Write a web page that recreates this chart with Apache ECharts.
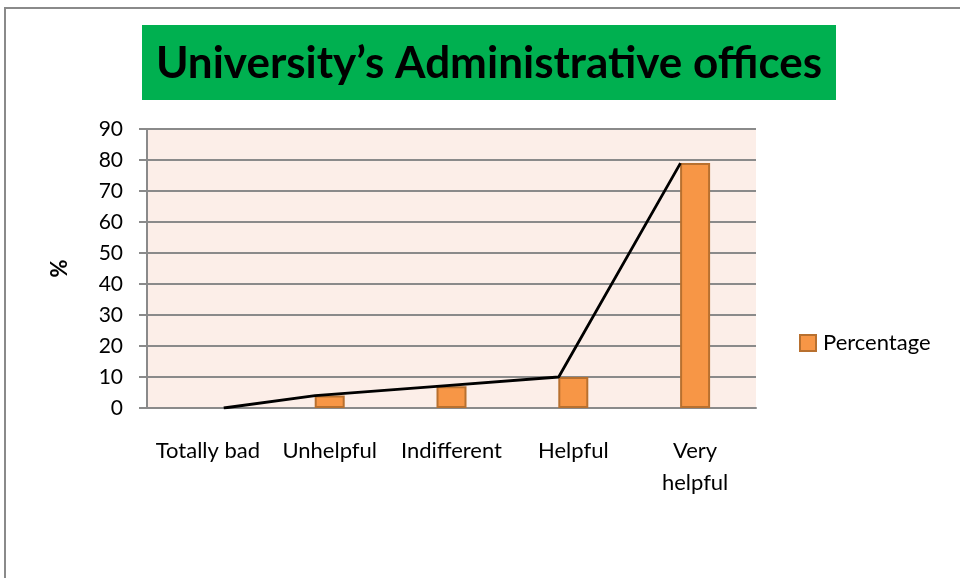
<!DOCTYPE html>
<html><head><meta charset="utf-8">
<script src="https://cdn.jsdelivr.net/npm/echarts@6/dist/echarts.min.js"></script>
<style>html,body{margin:0;padding:0;background:#fff}#c{width:960px;height:578px}</style>
</head><body><div id="c"></div>
<script>
const titleText = "University’s Administrative offices";
const categories = ["Totally bad", "Unhelpful", "Indifferent", "Helpful", "Very\nhelpful"];
const percentages = [0, 4, 7, 10, 79];
const linePositions = [0.63, 1.38, 2.38, 3.38, 4.38];
const lineValues = [0, 4, 7, 10, 79];
const yTicks = [0, 10, 20, 30, 40, 50, 60, 70, 80, 90];

const FONT = "Lato";
const chart = echarts.init(document.getElementById('c'), null, {renderer: 'canvas'});
chart.setOption({
  backgroundColor: '#fff',
  animation: false,
  graphic: [
    {type: 'rect', shape: {x: 5, y: 8, width: 1000, height: 620}, style: {fill: 'none', stroke: '#8a8a8a', lineWidth: 2}, z: -1},
    {type: 'rect', shape: {x: 142, y: 25, width: 694, height: 75}, style: {fill: '#00B050'}, z: 0},
    {type: 'text', x: 489, y: 64, style: {text: titleText, fill: '#000', font: 'bold 44px ' + FONT, textAlign: 'center', textVerticalAlign: 'middle'}, z: 1}
  ],
  legend: {
    data: ['Percentage'], left: 799, top: 332, padding: 0, itemWidth: 16, itemHeight: 16,
    textStyle: {fontFamily: FONT, fontSize: 22, color: '#000', padding: [0,0,0,2]}, icon: 'rect'
  },
  grid: {left: 147, right: 204, top: 129, bottom: 170, show: true, backgroundColor: '#FCEEE8', borderWidth: 0},
  xAxis: [{
    type: 'category', data: categories,
    axisLine: {lineStyle: {color: '#8a8a8a', width: 2}},
    axisTick: {show: false},
    axisLabel: {color: '#000', fontFamily: FONT, fontSize: 22, margin: 27, lineHeight: 32, interval: 0, verticalAlign: 'top'}
  }, {
    type: 'value', min: 0, max: 5, show: false
  }],
  yAxis: {
    type: 'value', min: 0, max: 90, interval: 10,
    name: '%', nameLocation: 'middle', nameGap: 76, nameRotate: 90,
    nameTextStyle: {fontFamily: FONT, fontSize: 22, fontWeight: 'bold', color: '#000'},
    axisLine: {show: true, lineStyle: {color: '#8a8a8a', width: 2}},
    axisTick: {show: true, length: 8, lineStyle: {color: '#8a8a8a', width: 2}},
    axisLabel: {color: '#000', fontFamily: FONT, fontSize: 21, margin: 24,
      formatter: v => yTicks.includes(v) ? String(v) : ''},
    splitLine: {lineStyle: {color: '#8a8a8a', width: 2}}
  },
  series: [{
    name: 'Percentage', type: 'bar', barWidth: 30,
    data: percentages.map(v => v > 0 ? v : {value: v, itemStyle: {borderWidth: 0, opacity: 0}}),
    itemStyle: {color: '#F79646', borderColor: '#B8702F', borderWidth: 2}
  }, {
    name: 'trend', type: 'line', xAxisIndex: 1,
    data: linePositions.map((x, i) => [x, lineValues[i]]),
    symbol: 'none', lineStyle: {color: '#000', width: 2.8}, z: 5
  }]
});
</script></body></html>
